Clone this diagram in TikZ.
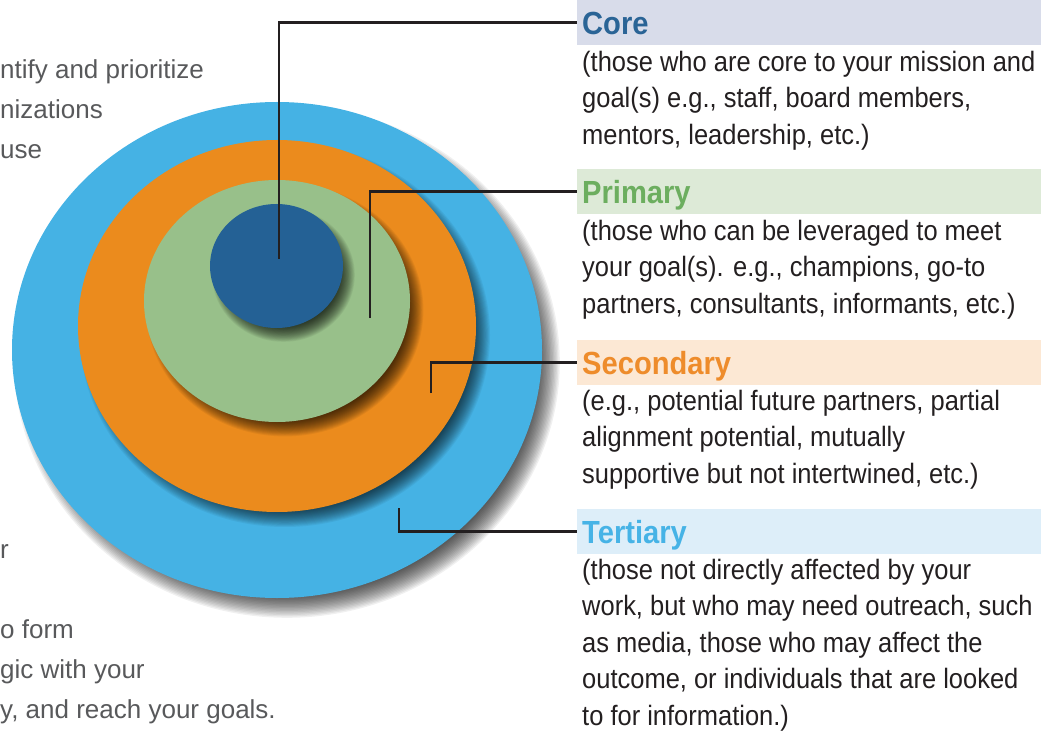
\documentclass[tikz,border=0pt]{standalone}
\usepackage{fontspec}
\setmainfont{Liberation Sans}[FakeStretch=0.91]
\newfontfamily\leftfont{Liberation Sans}
\usetikzlibrary{shapes.geometric,calc}
\definecolor{ringT}{HTML}{45B2E4}
\definecolor{ringS}{HTML}{EB8B1D}
\definecolor{ringP}{HTML}{98C08A}
\definecolor{ringC}{HTML}{246195}
\definecolor{txtC}{HTML}{2A6496}
\definecolor{boxC}{HTML}{D8DCEA}
\definecolor{txtP}{HTML}{6CAE5F}
\definecolor{boxP}{HTML}{DDEAD7}
\definecolor{txtS}{HTML}{EE8C2B}
\definecolor{boxS}{HTML}{FCE8D4}
\definecolor{txtT}{HTML}{46B3E6}
\definecolor{boxT}{HTML}{DDEEF9}
\definecolor{bodytxt}{HTML}{231F20}
\definecolor{greytxt}{HTML}{58595B}
\newcommand{\softshade}[7]{% center, rx, ry, dx, dy, spread, opacity
  \foreach \k in {0,...,19}{
    \fill[black,opacity=#7] ([shift={(#4,#5)}]#1) ellipse [x radius={#2-0.7*#6+\k*#6/19}, y radius={#3-0.7*#6+\k*#6/19}];
  }}
\tikzset{
  ring/.style={ellipse, inner sep=0pt, draw=none},
  hdr/.style={anchor=north west, minimum width=464pt, minimum height=45pt, text width=454pt, inner xsep=5pt, inner ysep=0pt, align=left, text height=24pt, text depth=0pt, font=\fontsize{32}{36}\selectfont\bfseries},
  bodyt/.style={anchor=north west, inner sep=0pt, align=left, text=bodytxt, font=\fontsize{28}{36.5}\selectfont},
  leftt/.style={anchor=north west, inner sep=0pt, align=left, text=greytxt, font=\leftfont\fontsize{26}{40}\selectfont},
  conn/.style={draw=bodytxt, line width=2.6pt}
}
\begin{document}
\begin{tikzpicture}[x=1pt,y=-1pt]
\useasboundingbox (0,0) rectangle (1052,735);
% left text
\node[leftt] (l1) at (0,56) {\rule{0pt}{22pt}ntify and prioritize\\nizations\\use};
\node[leftt] (l2) at (0,536) {\rule{0pt}{22pt}r\\\mbox{}\\o form\\gic with your\\y, and reach your goals.};
% rings
\coordinate (cT) at (277,350);
\coordinate (cS) at (277,326);
\coordinate (cP) at (277,301);
\coordinate (cC) at (276.5,266);
\softshade{cT}{265}{248}{10}{12}{26}{0.06}
\node[ring, fill=ringT, minimum width=530pt, minimum height=496pt] (tert) at (cT) {};
\softshade{cS}{199}{186}{8}{9}{20}{0.05}
\node[ring, fill=ringS, minimum width=398pt, minimum height=372pt] (sec) at (cS) {};
\softshade{cP}{133}{121}{8}{9}{18}{0.055}
\node[ring, fill=ringP, minimum width=266pt, minimum height=242pt] (prim) at (cP) {};
\softshade{cC}{66.5}{62}{7}{9}{16}{0.055}
\node[ring, fill=ringC, minimum width=133pt, minimum height=124pt] (core) at (cC) {};
% header boxes
\node[hdr, fill=boxC, text=txtC] (coreH) at (577,0) {Core};
\node[hdr, fill=boxP, text=txtP] (primH) at (577,169) {Primary};
\node[hdr, fill=boxS, text=txtS] (secH) at (577,340) {Secondary};
\node[hdr, fill=boxT, text=txtT] (terH) at (577,509) {Tertiary};
% body texts
\node[bodyt] (coreB) at (582,49) {\rule{0pt}{22pt}(those who are core to your mission and\\goal(s) e.g., staff, board members,\\mentors, leadership, etc.)};
\node[bodyt] (primB) at (582,218) {\rule{0pt}{22pt}(those who can be leveraged to meet\\your goal(s). e.g., champions, go-to\\partners, consultants, informants, etc.)};
\node[bodyt] (secB) at (582,388) {\rule{0pt}{22pt}(e.g., potential future partners, partial\\alignment potential, mutually\\supportive but not intertwined, etc.)};
\node[bodyt] (terB) at (582,557) {\rule{0pt}{22pt}(those not directly affected by your\\work, but who may need outreach, such\\as media, those who may affect the\\outcome, or individuals that are looked\\to for information.)};
% connectors
\coordinate (coreP) at (279,259);
\coordinate (primP) at (370,318);
\coordinate (secP) at (431,393);
\coordinate (terP) at (399,508);
\draw[conn] (coreP) |- (coreH.west);
\draw[conn] (primP) |- (primH.west);
\draw[conn] (secP) |- (secH.west);
\draw[conn] (terP) |- (terH.west);
\end{tikzpicture}
\end{document}
